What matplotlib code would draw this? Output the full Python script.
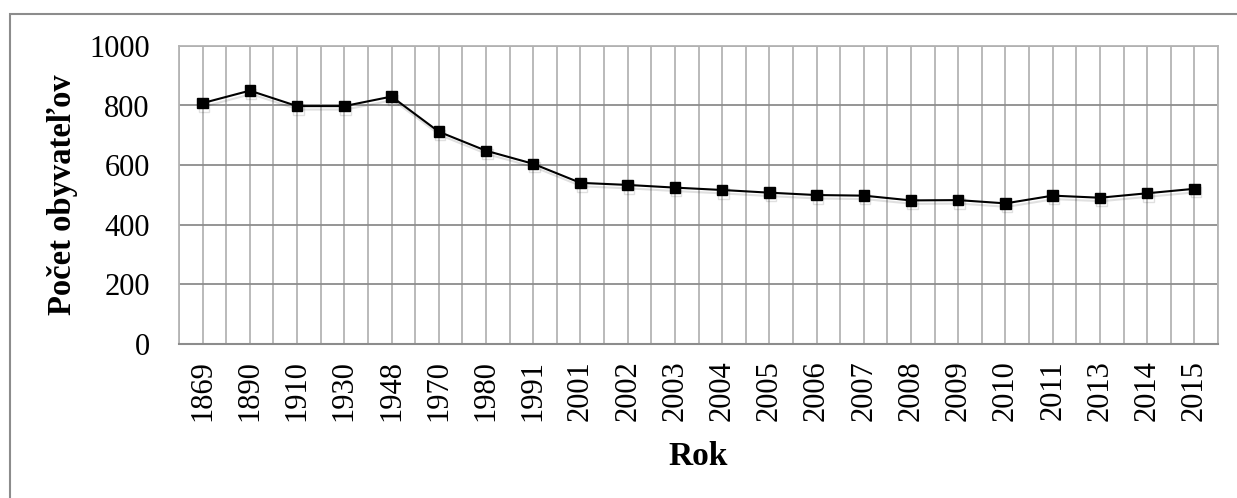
import matplotlib
matplotlib.use("Agg")
import matplotlib.pyplot as plt
import matplotlib.patheffects as pe
from matplotlib.patches import Rectangle

years = ["1869", "1890", "1910", "1930", "1948", "1970", "1980", "1991", "2001", "2002",
         "2003", "2004", "2005", "2006", "2007", "2008", "2009", "2010", "2011", "2013",
         "2014", "2015"]
population = [808, 850, 798, 798, 830, 712, 648, 604, 540, 533,
              524, 516, 507, 499, 497, 481, 482, 471, 497, 490,
              505, 520]
y_ticks = [0, 200, 400, 600, 800, 1000]

plt.rcParams['font.family'] = ['Liberation Serif', 'DejaVu Serif']

fig = plt.figure(figsize=(12.37, 4.98), dpi=100)
# outer chart frame
fig.patches.append(Rectangle((10 / 1237, -0.1), 1.2, 1 - 14 / 498 + 0.1,
                             transform=fig.transFigure, fill=False,
                             edgecolor='#8c8c8c', linewidth=1.5, zorder=0))

ax = fig.add_axes([179 / 1237, 1 - 343.5 / 498, (1218 - 179) / 1237, (343.5 - 46) / 498])
x = list(range(len(years)))

ax.plot(x, population, color='black', linewidth=1.5, marker='s', markersize=7.5,
        markerfacecolor='black', markeredgecolor='black', zorder=3,
        path_effects=[pe.SimpleLineShadow(offset=(1, -2.5), shadow_color='black', alpha=0.12),
                      pe.Normal()])

ax.set_xlim(-0.5, len(years) - 0.5)
ax.set_ylim(0, 1000)
ax.set_yticks(y_ticks)
ax.set_xticks(x)
ax.set_xticklabels(years, rotation=90, fontsize=22)
ax.set_xticks([i - 0.5 for i in range(len(years) + 1)], minor=True)
for lbl in ax.get_yticklabels():
    lbl.set_fontsize(22)

ax.grid(True, which='major', axis='y', color='#8c8c8c', linewidth=1.3)
ax.grid(True, which='both', axis='x', color='#b4b4b4', linewidth=1.3)
ax.set_axisbelow(True)
ax.tick_params(axis='both', which='both', length=0)
ax.tick_params(axis='y', pad=21)
ax.tick_params(axis='x', pad=12)

for side in ['top', 'right', 'left']:
    ax.spines[side].set_color('#b4b4b4')
    ax.spines[side].set_linewidth(1.3)
ax.spines['bottom'].set_color('#8c8c8c')
ax.spines['bottom'].set_linewidth(1.5)

ax.set_ylabel('Počet obyvateľov', fontsize=23.5, fontweight='bold', labelpad=8)
ax.set_xlabel('Rok', fontsize=24, fontweight='bold', labelpad=14)

fig.savefig('out.png', dpi=100)
